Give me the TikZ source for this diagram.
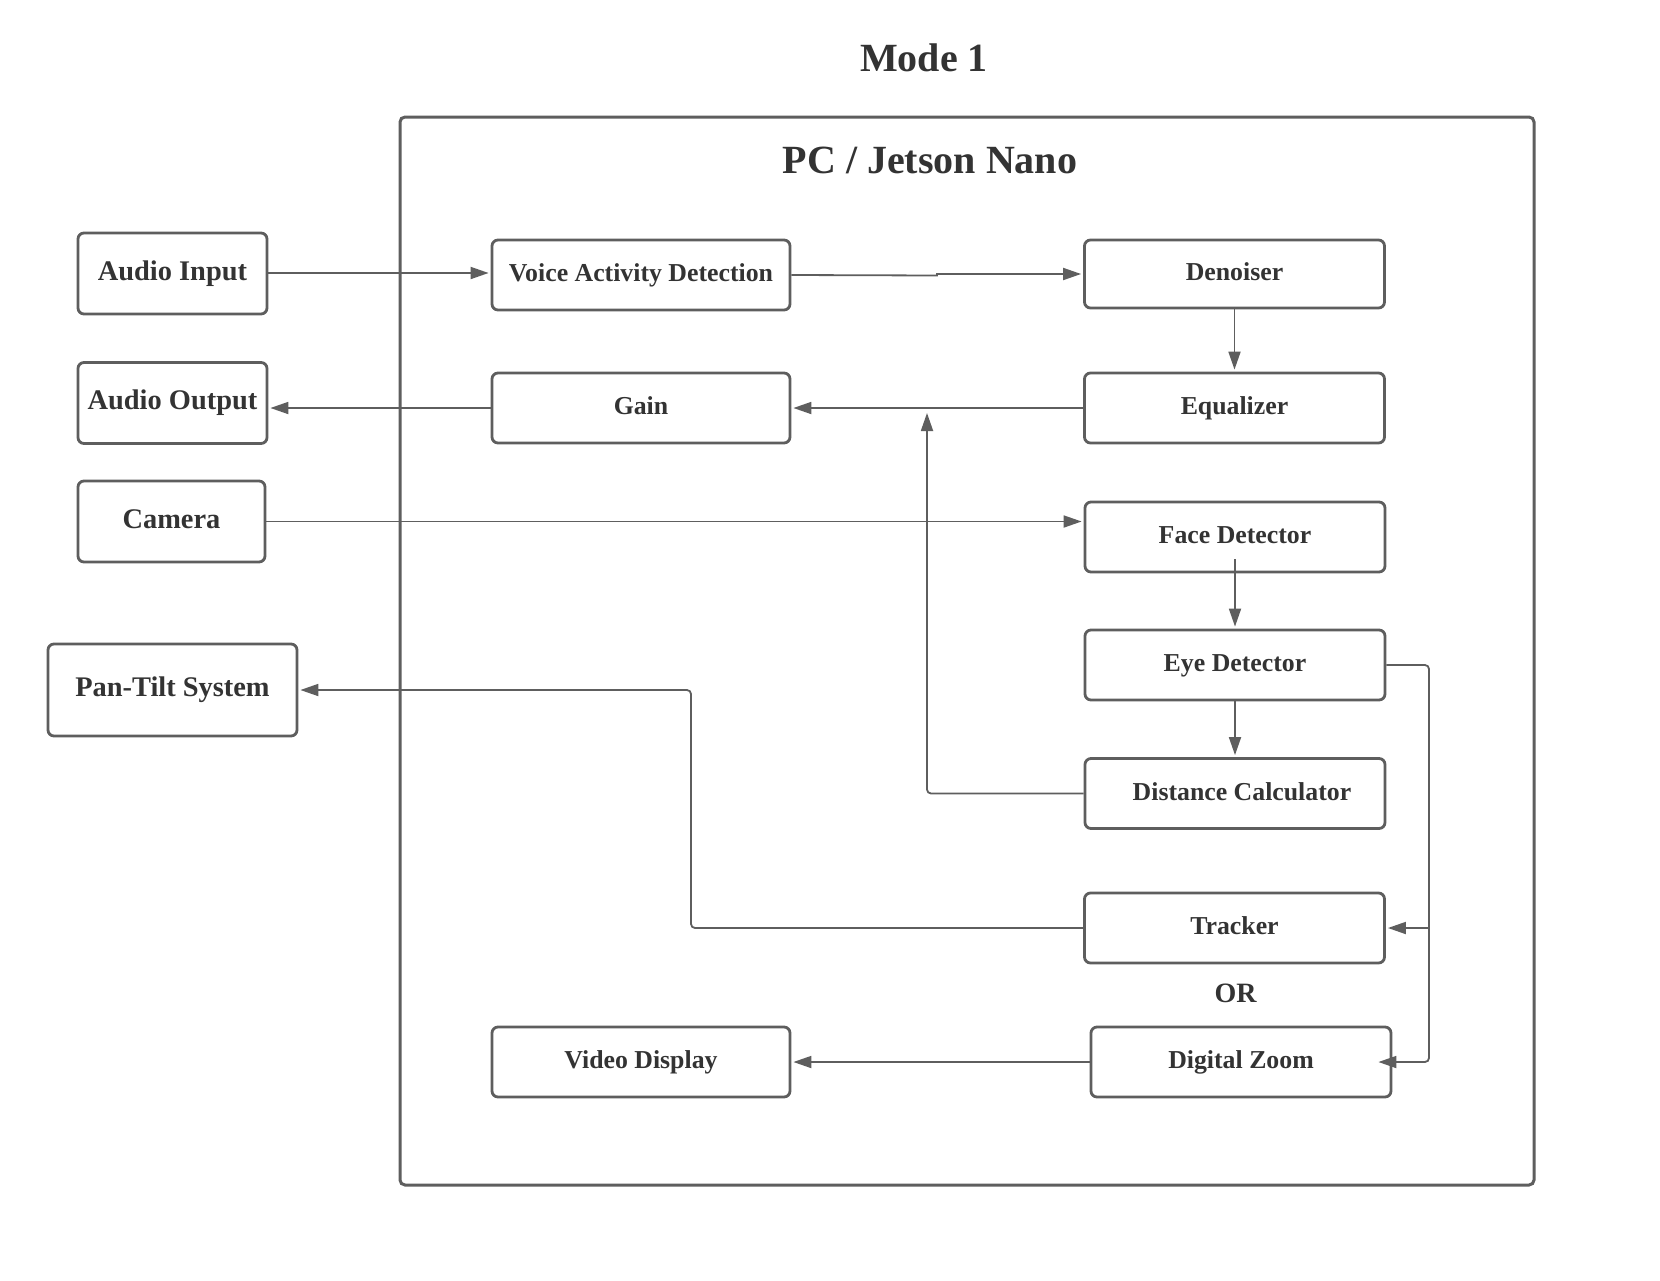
\documentclass[tikz,border=0pt]{standalone}
\usepackage{fontspec}
\setmainfont{Liberation Serif}
\usetikzlibrary{arrows.meta,calc}
\definecolor{linec}{HTML}{5E5E5E}
\definecolor{textc}{HTML}{333333}
\begin{document}
\begin{tikzpicture}[x=0.5pt,y=-0.5pt,
  box/.style={draw=linec, line width=1.4pt, rounded corners=3pt, rectangle, inner sep=0pt,
    text=textc, font=\bfseries\fontsize{12.9pt}{15pt}\selectfont, text height=0.66em, text depth=0pt,
    minimum width=150pt, minimum height=35pt},
  outbox/.style={box, font=\bfseries\fontsize{14.2pt}{17pt}\selectfont, minimum width=94.5pt, minimum height=40.5pt},
  title/.style={text=textc, font=\bfseries\fontsize{20pt}{24pt}\selectfont, anchor=base, inner sep=0pt},
  conn/.style={draw=linec, line width=0.9pt, rounded corners=2pt},
  arr/.style={conn, -{Triangle[length=9pt,width=6pt]}, shorten >=1pt}]
\useasboundingbox (0,0) rectangle (1660,1280);
\fill[white] (0,0) rectangle (1660,1280);

% titles
\node[title] (mode) at (924,71) {Mode 1};
\draw[draw=linec, line width=1.5pt, rounded corners=2.5pt] (400,117) rectangle (1534,1185);
\node[title] (pc) at (930,173) {PC / Jetson Nano};

% outside boxes
\node[outbox] (ain) at (172.5,273.5) {Audio Input};
\node[outbox] (aout) at (172.5,403) {Audio Output};
\node[outbox, minimum width=93.5pt] (cam) at (171.5,521.5) {Camera};
\node[outbox, minimum width=124.5pt, minimum height=46pt] (pan) at (172.5,690) {Pan-Tilt System};

% inner boxes
\node[box, minimum width=149pt] (vad) at (641,275) {Voice Activity Detection};
\node[box, minimum height=34pt] (den) at (1234.5,274) {Denoiser};
\node[box, minimum width=149pt] (gain) at (641,408) {Gain};
\node[box] (eq) at (1234.5,408) {Equalizer};
\node[box] (face) at (1235,537) {Face Detector};
\node[box] (eye) at (1235,665) {Eye Detector};
\node[box] (dist) at (1235,793.5) {\hspace*{7pt}Distance Calculator};
\node[box] (trk) at (1234.5,928) {Tracker};
\node[text=textc, font=\bfseries\fontsize{14pt}{17pt}\selectfont, anchor=base, inner sep=0pt] (or) at (1235.5,1002) {OR};
\node[box] (dz) at (1241,1062) {Digital Zoom};
\node[box, minimum width=149pt] (vd) at (641,1062) {Video Display};

% helper coordinates
\coordinate (jd) at (927,411);
\coordinate (jp) at (691,0);
\coordinate (jr) at (1429,0);
\coordinate (dztip) at ($(dz.east)+(-14,0)$);

% connectors
\draw[arr] (ain.east |- 0,273) -- (vad.west |- 0,273);
\draw[arr, sharp corners] (vad.east) -- (937,275.5) -- (937,274) -- (den.west);
\draw[arr] (den.south) -- (eq.north);
\draw[arr] (eq.west) -- (gain.east);
\draw[arr] (gain.west) -- (gain.west -| aout.east);
\draw[arr] (cam.east) -- (cam.east -| face.west);
\draw[arr] ($(face.south)+(0,-14)$) -- (eye.north);
\draw[arr] (eye.south) -- (dist.north);
\draw[arr] (dist.west) -| (jd);
\draw[arr] (trk.west) -| (jp |- pan.east) -- (pan.east);
\draw[conn, -{Triangle[length=9pt,width=6pt]}] (eye.east) -| (jr |- dz.east) -- (dztip);
\draw[arr] (jr |- trk.east) -- (trk.east);
\draw[arr] (dz.west) -- (vd.east);
\end{tikzpicture}
\end{document}
